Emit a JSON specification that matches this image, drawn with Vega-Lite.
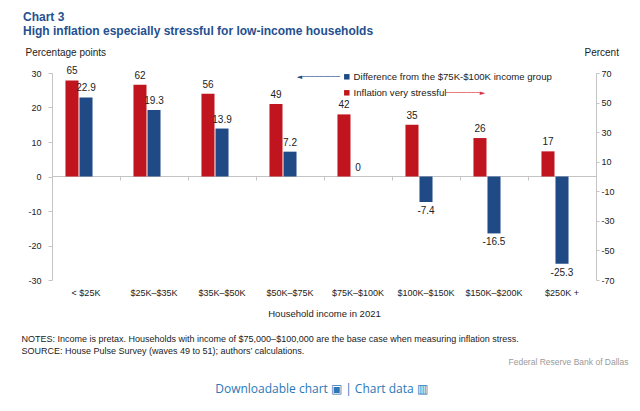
{
  "$schema": "https://vega.github.io/schema/vega-lite/v6.json",
  "width": 544,
  "height": 207,
  "autosize": {"type": "none"},
  "padding": {"left": 52, "top": 73, "right": 44, "bottom": 131},
  "background": "white",
  "title": {
    "text": ["Chart 3", "High inflation especially stressful for low-income households"],
    "anchor": "start",
    "frame": "group",
    "dx": -29,
    "dy": -5,
    "fontSize": 12,
    "fontWeight": "bold",
    "color": "#24508f",
    "font": "Liberation Sans",
    "lineHeight": 14
  },
  "data": {
    "values": [
      {"income": "< $25K", "stressed": 65, "difference": 22.9},
      {"income": "$25K–$35K", "stressed": 62, "difference": 19.3},
      {"income": "$35K–$50K", "stressed": 56, "difference": 13.9},
      {"income": "$50K–$75K", "stressed": 49, "difference": 7.2},
      {"income": "$75K–$100K", "stressed": 42, "difference": 0},
      {"income": "$100K–$150K", "stressed": 35, "difference": -7.4},
      {"income": "$150K–$200K", "stressed": 26, "difference": -16.5},
      {"income": "$250K +", "stressed": 17, "difference": -25.3}
    ]
  },
  "layer": [
    {
      "layer": [
        {
          "mark": {"type": "bar"},
          "encoding": {
            "x": {
              "field": "income",
              "type": "nominal",
              "sort": null,
              "scale": {
                "domain": ["< $25K", "$25K–$35K", "$35K–$50K", "$50K–$75K", "$75K–$100K", "$100K–$150K", "$150K–$200K", "$250K +"],
                "paddingInner": 0,
                "paddingOuter": 0
              },
              "axis": {
                "orient": "bottom",
                "labelAngle": 0,
                "domain": false,
                "ticks": false,
                "tickSize": 0,
                "labelPadding": 8,
                "labelFontSize": 9,
                "title": "Household income in 2021",
                "titleFontSize": 9.5,
                "titleY": 36,
                "titleBaseline": "alphabetic"
              }
            },
            "xOffset": {
              "datum": "Inflation very stressful",
              "scale": {
                "domain": ["Inflation very stressful", "Difference from the $75K-$100K income group", "pad"],
                "paddingInner": 0.07,
                "paddingOuter": 0.96
              }
            },
            "y": {
              "field": "stressed",
              "type": "quantitative",
              "scale": {"domain": [-70, 70], "nice": false, "zero": false},
              "axis": {
                "orient": "right",
                "values": [-70, -50, -30, -10, 10, 30, 50, 70],
                "tickCount": 20,
                "labelExpr": "'' + datum.value",
                "tickSize": 3,
                "labelPadding": 2,
                "title": "Percent",
                "titleAngle": 0,
                "titleX": -12,
                "titleY": -21,
                "titleAlign": "left",
                "titleBaseline": "middle",
                "titleFontSize": 10
              }
            },
            "color": {
              "datum": "Inflation very stressful",
              "scale": {
                "domain": ["Difference from the $75K-$100K income group", "Inflation very stressful"],
                "range": ["#1F4A86", "#C0151E"]
              },
              "legend": {
                "orient": "none",
                "legendX": 290,
                "legendY": -1,
                "title": null,
                "symbolType": "square",
                "symbolSize": 30,
                "symbolStrokeWidth": 0,
                "labelFontSize": 9.6,
                "labelColor": "#222",
                "labelLimit": 0,
                "rowPadding": 5,
                "padding": 0,
                "labelOffset": 2
              }
            }
          }
        },
        {
          "mark": {"type": "text", "baseline": "bottom", "dy": -4, "fontSize": 10},
          "encoding": {
            "x": {"field": "income", "type": "nominal", "sort": null},
            "xOffset": {"datum": "Inflation very stressful"},
            "y": {"field": "stressed", "type": "quantitative"},
            "text": {"field": "stressed", "type": "nominal"}
          }
        }
      ]
    },
    {
      "layer": [
        {
          "mark": {"type": "bar"},
          "encoding": {
            "x": {
              "field": "income",
              "type": "nominal",
              "sort": null,
              "axis": {
                "orient": "bottom",
                "offset": -104,
                "labels": false,
                "ticks": true,
                "tickSize": 4,
                "tickBand": "extent",
                "domain": true,
                "title": [
                  "NOTES: Income is pretax. Households with income of $75,000–$100,000 are the base case when measuring inflation stress.",
                  "SOURCE: House Pulse Survey (waves 49 to 51); authors’ calculations."
                ],
                "titleX": -31,
                "titleY": 158,
                "titleAlign": "left",
                "titleAnchor": "start",
                "titleBaseline": "top",
                "titleFontSize": 9,
                "titleLineHeight": 12
              }
            },
            "xOffset": {"datum": "Difference from the $75K-$100K income group"},
            "y": {
              "field": "difference",
              "type": "quantitative",
              "scale": {"domain": [-30, 30], "nice": false, "zero": false},
              "axis": {
                "orient": "left",
                "values": [-30, -20, -10, 0, 10, 20, 30],
                "tickCount": 20,
                "labelExpr": "'' + datum.value",
                "tickSize": 4,
                "labelPadding": 7,
                "title": "Percentage points",
                "titleAngle": 0,
                "titleX": -27,
                "titleY": -21,
                "titleAlign": "left",
                "titleBaseline": "middle",
                "titleFontSize": 10
              }
            },
            "color": {"datum": "Difference from the $75K-$100K income group"}
          }
        },
        {
          "transform": [{"filter": "datum.difference >= 0"}],
          "mark": {"type": "text", "baseline": "bottom", "dy": -4, "fontSize": 10},
          "encoding": {
            "x": {"field": "income", "type": "nominal", "sort": null},
            "xOffset": {"datum": "Difference from the $75K-$100K income group"},
            "y": {"field": "difference", "type": "quantitative"},
            "text": {"field": "difference", "type": "nominal"}
          }
        },
        {
          "transform": [{"filter": "datum.difference < 0"}],
          "mark": {"type": "text", "baseline": "top", "dy": 4, "fontSize": 10},
          "encoding": {
            "x": {"field": "income", "type": "nominal", "sort": null},
            "xOffset": {"datum": "Difference from the $75K-$100K income group"},
            "y": {"field": "difference", "type": "quantitative"},
            "text": {"field": "difference", "type": "nominal"}
          }
        }
      ]
    },
    {
      "data": {"values": [{"arrow": "◄─────────"}]},
      "mark": {"type": "text", "align": "right", "dx": -18, "fontSize": 7, "font": "DejaVu Sans", "color": "#1F4A86"},
      "encoding": {
        "x": {
          "datum": "$75K–$100K",
          "type": "nominal",
          "axis": {
            "orient": "top",
            "labels": false,
            "ticks": false,
            "domain": false,
            "title": "Federal Reserve  Bank of Dallas",
            "titleX": 576,
            "titleY": 288,
            "titleAlign": "right",
            "titleBaseline": "middle",
            "titleColor": "#9a9a9a",
            "titleFontSize": 8.5
          }
        },
        "y": {"datum": 28.7, "type": "quantitative", "scale": {"domain": [-30, 30], "nice": false, "zero": false}, "axis": null},
        "text": {"field": "arrow", "type": "nominal"}
      }
    },
    {
      "data": {"values": [{"arrow": "────────►"}]},
      "mark": {"type": "text", "align": "left", "dx": 20, "fontSize": 7, "font": "DejaVu Sans", "color": "#E0303A"},
      "encoding": {
        "x": {
          "datum": "$100K–$150K",
          "type": "nominal",
          "axis": {
            "orient": "top",
            "labels": false,
            "ticks": false,
            "domain": false,
            "title": "Downloadable chart ▣   |  Chart data ▥",
            "titleX": 269,
            "titleY": 315,
            "titleAlign": "center",
            "titleBaseline": "middle",
            "titleColor": "#2a78b8",
            "titleFont": "Open Sans",
            "titleFontSize": 12
          }
        },
        "y": {"datum": 24.3, "type": "quantitative", "scale": {"domain": [-30, 30], "nice": false, "zero": false}, "axis": null},
        "text": {"field": "arrow", "type": "nominal"}
      }
    }
  ],
  "resolve": {
    "scale": {"y": "independent"},
    "axis": {"x": "independent", "y": "independent"}
  },
  "config": {
    "font": "Liberation Sans",
    "view": {"stroke": null},
    "axis": {
      "grid": false,
      "labelOverlap": false,
      "labelBound": false,
      "domainColor": "#c4c4c4",
      "tickColor": "#c4c4c4",
      "labelFontSize": 9,
      "labelColor": "#222",
      "labelFont": "Liberation Sans",
      "titleFont": "Liberation Sans",
      "titleFontWeight": "normal",
      "titleColor": "#222"
    },
    "legend": {"labelFont": "Liberation Sans"},
    "text": {"font": "Liberation Sans", "color": "#222"}
  }
}
